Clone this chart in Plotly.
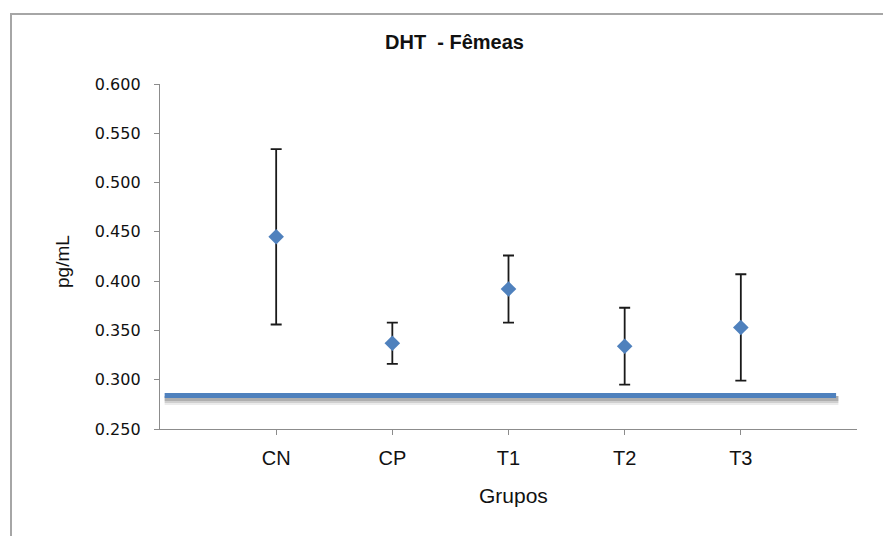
import plotly.graph_objects as go

# DHT levels in females, per group (mean ± error)
grupos = ["CN", "CP", "T1", "T2", "T3"]
media = [0.445, 0.337, 0.392, 0.334, 0.353]
erro = [0.089, 0.021, 0.034, 0.039, 0.054]

# reference level drawn as a horizontal band across the plot
ref_valor = 0.284
ref_x = [0.04, 5.82]

y_ticks = [0.25, 0.30, 0.35, 0.40, 0.45, 0.50, 0.55, 0.60]

W, H = 883, 536
L, R, T, B = 160, 26, 84, 107
plot_w = W - L - R
plot_h = H - T - B
y_min, y_max = 0.25, 0.60
px_per_unit = plot_h / (y_max - y_min)

BLUE = "#4F81BD"
AXIS = "#8c8c8c"

x_pos = list(range(1, len(grupos) + 1))

fig = go.Figure()

# soft drop shadow under the reference line
for off, wdt, alpha in [(5.0, 9, 0.10), (4.0, 7, 0.16), (3.0, 5, 0.22)]:
    dy = off / px_per_unit
    fig.add_trace(go.Scatter(
        x=[ref_x[0], ref_x[1] + 0.02], y=[ref_valor - dy, ref_valor - dy],
        mode="lines", line=dict(color=f"rgba(60,60,60,{alpha})", width=wdt),
        hoverinfo="skip", showlegend=False))

fig.add_trace(go.Scatter(
    x=ref_x, y=[ref_valor, ref_valor], mode="lines",
    line=dict(color=BLUE, width=5), hoverinfo="skip", showlegend=False))

fig.add_trace(go.Scatter(
    x=x_pos, y=media, mode="markers",
    marker=dict(symbol="diamond", size=12, color=BLUE),
    error_y=dict(type="data", array=erro, visible=True,
                 color="#1a1a1a", thickness=1.8, width=5.5),
    showlegend=False))

fig.update_xaxes(
    range=[0, 6], tickmode="array", tickvals=x_pos, ticktext=grupos,
    showgrid=False, zeroline=False, showline=True, linecolor=AXIS, linewidth=1.3,
    ticks="outside", ticklen=5, tickcolor=AXIS, tickwidth=1.3,
    tickfont=dict(family="Liberation Sans, Arial, sans-serif", size=20, color="#111"),
    ticklabelstandoff=6)

fig.update_yaxes(
    range=[y_min, y_max], tickmode="array", tickvals=y_ticks,
    ticktext=[f"{v:.3f}" for v in y_ticks],
    showgrid=False, zeroline=False, showline=True, linecolor=AXIS, linewidth=1.3,
    ticks="outside", ticklen=5, tickcolor=AXIS, tickwidth=1.3,
    tickfont=dict(family="DejaVu Sans, Verdana, sans-serif", size=16, color="#111"),
    ticklabelstandoff=10)

# chart-area frame
fx0 = (11 - L) / plot_w
fy1 = (H - B - 14) / plot_h
fig.add_shape(type="rect", xref="paper", yref="paper",
              x0=fx0, x1=(W + 20 - L) / plot_w, y0=-(B + 20) / plot_h, y1=fy1,
              line=dict(color="#a6a6a6", width=2), layer="below")

fig.update_layout(
    width=W, height=H,
    margin=dict(l=L, r=R, t=T, b=B),
    paper_bgcolor="white", plot_bgcolor="white",
    title=dict(text="<b>DHT  - Fêmeas</b>", x=454.5 / W, xref="container", xanchor="center",
               y=1 - 42 / H, yref="container", yanchor="middle",
               font=dict(family="Liberation Sans, Arial, sans-serif", size=20, color="#111")),
    annotations=[
        dict(text="Grupos", xref="paper", yref="paper",
             x=(513 - L) / plot_w, y=-(495 - (H - B)) / plot_h,
             xanchor="center", yanchor="middle", showarrow=False,
             font=dict(family="Liberation Sans, Arial, sans-serif", size=21, color="#111")),
        dict(text="pg/mL", xref="paper", yref="paper",
             x=(62 - L) / plot_w, y=((H - B) - 262) / plot_h, textangle=-90,
             xanchor="center", yanchor="middle", showarrow=False,
             font=dict(family="Liberation Sans, Arial, sans-serif", size=19, color="#111")),
    ],
)

fig.write_html("out.html")
